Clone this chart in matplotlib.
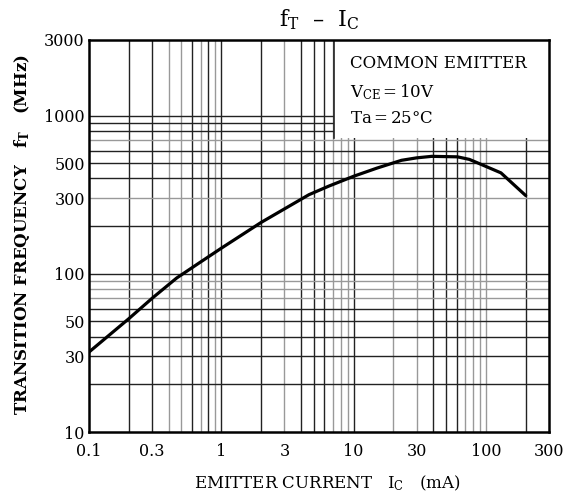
import matplotlib
matplotlib.use("Agg")
from matplotlib import pyplot as plt
from matplotlib.patches import Rectangle

ic_ma = [0.1, 0.2, 0.3, 0.46, 0.68, 1, 2, 4.6, 6.5, 10, 15, 23, 30, 39, 61, 75, 87, 130, 200]
ft_mhz = [32, 52, 70, 94, 117, 145, 211, 316, 358, 413, 465, 521, 540, 552, 548, 528, 501, 434, 312]

x_ticks = [0.1, 0.3, 1, 3, 10, 30, 100, 300]
x_ticklabels = ["0.1", "0.3", "1", "3", "10", "30", "100", "300"]
y_ticks = [10, 30, 50, 100, 300, 500, 1000, 3000]
y_ticklabels = ["10", "30", "50", "100", "300", "500", "1000", "3000"]

# Rejilla (líneas oscuras y claras)
vgrid_dark = [0.2, 0.3, 0.6, 0.8, 1, 2, 4, 5, 6, 10, 40, 50, 60, 200]
vgrid_light = [0.4, 0.5, 0.7, 0.9, 3, 7, 8, 9, 20, 30, 70, 80, 90, 100]
hgrid_dark = [20, 30, 40, 50, 60, 100, 200, 400, 500, 600, 800, 900, 1000]
hgrid_light = [70, 80, 90, 300, 700]

# Caja de condiciones
box_x0 = 7.08
box_y0 = 720
legend_lines = ["COMMON EMITTER", r"$\mathregular{V_{CE}}$$\,$=$\,$10V", "Ta$\\,$=$\\,$25°C"]

plt.rcParams["font.family"] = "DejaVu Serif"
plt.rcParams["mathtext.fontset"] = "dejavuserif"

fig = plt.figure(figsize=(5.75, 4.98), dpi=100)
ax = fig.add_axes([89 / 575, 66 / 498, 460 / 575, 392 / 498])
ax.set_xscale("log")
ax.set_yscale("log")
ax.set_xlim(0.1, 300)
ax.set_ylim(10, 3000)

for v in vgrid_dark:
    ax.axvline(v, color="#222222", lw=1.0, zorder=1)
for v in vgrid_light:
    ax.axvline(v, color="#999999", lw=1.0, zorder=1)
for h in hgrid_dark:
    ax.axhline(h, color="#222222", lw=1.0, zorder=1)
for h in hgrid_light:
    ax.axhline(h, color="#999999", lw=1.0, zorder=1)

ax.add_patch(Rectangle((box_x0, box_y0), 300 - box_x0, 3000 - box_y0,
                       facecolor="white", edgecolor="none", zorder=2))
ax.plot([box_x0, box_x0], [box_y0, 3000], color="#222222", lw=1.2, zorder=3)

ax.plot(ic_ma, ft_mhz, color="black", lw=2.3, zorder=4,
        solid_capstyle="round", solid_joinstyle="round")

for i, t in enumerate(legend_lines):
    ax.text(0.567, [0.941, 0.866, 0.801][i], t, transform=ax.transAxes,
            fontsize=12, va="center", ha="left", zorder=5)

ax.set_xticks(x_ticks)
ax.set_xticklabels(x_ticklabels)
ax.set_yticks(y_ticks)
ax.set_yticklabels(y_ticklabels)
ax.minorticks_off()
ax.tick_params(length=0, labelsize=11.5)
ax.tick_params(axis="x", pad=8)
ax.tick_params(axis="y", pad=3)
for s in ax.spines.values():
    s.set_linewidth(1.8)
    s.set_zorder(6)

fig.text(319 / 575, 1 - 20 / 498, r"$\mathregular{f_T}$  –  $\mathregular{I_C}$",
         ha="center", va="center", fontsize=16)
fig.text(22 / 575, 1 - 235 / 498, r"TRANSITION FREQUENCY   $\mathregular{f_T}$   (MHz)",
         rotation=90, ha="center", va="center", fontsize=12, fontweight="bold")
fig.text(327 / 575, 1 - 483 / 498, r"EMITTER CURRENT   $\mathregular{I_C}$   (mA)",
         ha="center", va="center", fontsize=12)

fig.savefig("out.png", dpi=100)
